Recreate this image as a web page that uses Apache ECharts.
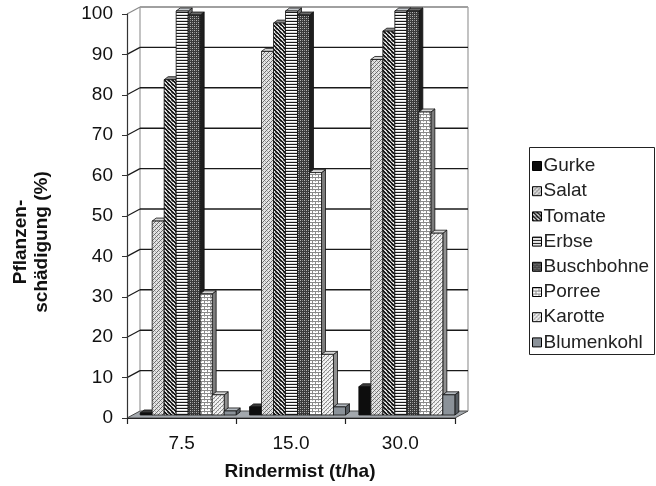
<!DOCTYPE html>
<html>
<head>
<meta charset="utf-8">
<script src="https://cdn.jsdelivr.net/npm/echarts@6/dist/echarts.min.js"></script>
<style>
  html, body { margin: 0; padding: 0; background: #fff; }
  #chart { width: 656px; height: 486px; }
</style>
</head>
<body>
<div id="chart"></div>
<script>
// Rindermist-Gabe (t/ha) und Pflanzenschädigung (%) je Gemüseart
const categories = ['7.5', '15.0', '30.0'];
const seriesNames = ['Gurke', 'Salat', 'Tomate', 'Erbse', 'Buschbohne', 'Porree', 'Karotte', 'Blumenkohl'];
const gurke      = [0.5, 2, 7];
const salat      = [48, 90, 88];
const tomate     = [83, 97, 95];
const erbse      = [100, 100, 100];
const buschbohne = [99, 99, 100];
const porree     = [30, 60, 75];
const karotte    = [5, 15, 45];
const blumenkohl = [1, 2, 5];
const yTicks = [0, 10, 20, 30, 40, 50, 60, 70, 80, 90, 100];

const seriesValues = [gurke, salat, tomate, erbse, buschbohne, porree, karotte, blumenkohl];

// --- pseudo-3D geometry (pixels) ---
const WALL_DX = 13, WALL_DY = -7;   // back wall offset from the front plane
const BAR_DX = 6.5, BAR_DY = -3;    // bars stand at half depth
const FACE_DX = 4, FACE_DY = -3;    // top/side face depth of a single bar
const BAR_W = 12;

// --- fill patterns ---
function tile(w, h, draw) {
  const c = document.createElement('canvas');
  c.width = w; c.height = h;
  const g = c.getContext('2d');
  draw(g);
  return { image: c, repeat: 'repeat' };
}
function px(g, col, pts) { g.fillStyle = col; pts.forEach(p => g.fillRect(p[0], p[1], 1, 1)); }

const patterns = [
  '#0d0d0d',
  tile(4, 4, g => { g.fillStyle = '#e4e4e4'; g.fillRect(0, 0, 4, 4);
    px(g, '#6c6c6c', [[0, 0], [2, 2], [1, 3], [3, 1]]); px(g, '#b0b0b0', [[1, 1], [3, 3]]); }),
  tile(4, 4, g => { g.fillStyle = '#dcdcdc'; g.fillRect(0, 0, 4, 4);
    px(g, '#1a1a1a', [[0, 0], [1, 1], [2, 2], [3, 3], [1, 0], [2, 1], [3, 2], [0, 3]]);
    px(g, '#777', [[3, 0], [0, 1]]); }),
  tile(1, 3, g => { g.fillStyle = '#ffffff'; g.fillRect(0, 0, 1, 3);
    px(g, '#1a1a1a', [[0, 0]]); px(g, '#d8d8d8', [[0, 2]]); }),
  tile(4, 4, g => { g.fillStyle = '#3a3a3a'; g.fillRect(0, 0, 4, 4);
    px(g, '#b8b8b8', [[0, 0], [2, 2]]); px(g, '#888', [[2, 0], [0, 2]]); }),
  tile(6, 6, g => { g.fillStyle = '#ffffff'; g.fillRect(0, 0, 6, 6);
    g.fillStyle = '#8a8a8a'; g.fillRect(0, 0, 6, 1); g.fillRect(0, 3, 6, 1);
    g.fillRect(0, 1, 1, 2); g.fillRect(3, 4, 1, 2); px(g, '#bbb', [[3, 1], [0, 4]]); }),
  tile(4, 4, g => { g.fillStyle = '#f2f2f2'; g.fillRect(0, 0, 4, 4);
    px(g, '#8c8c8c', [[3, 0], [2, 1], [1, 2], [0, 3]]); px(g, '#c4c4c4', [[0, 0], [2, 2]]); }),
  '#8b9299'
];
const sideColors = ['#000', '#8e8e8e', '#2a2a2a', '#6e6e6e', '#1e1e1e', '#7c7c7c', '#909090', '#555b61'];
const topColors  = ['#3a3a3a', '#d4d4d4', '#8a8a8a', '#c8ccd0', '#6a6a6a', '#d8d8d8', '#d8d8d8', '#b4bac0'];

// back wall, side wall, floor and gridlines
function renderWalls(params, api) {
  const cs = params.coordSys;
  const v = api.value(0);
  const p = api.coord([0, v]);
  const y = p[1];
  const left = cs.x, right = cs.x + cs.width;
  const children = [];
  if (params.dataIndex === 0) {
    const yTop = cs.y, yBot = cs.y + cs.height;
    children.push({
      type: 'polygon', z2: 0,
      shape: { points: [[left, yBot], [right, yBot], [right + WALL_DX, yBot + WALL_DY], [left + WALL_DX, yBot + WALL_DY]] },
      style: { fill: '#a3a8ad', stroke: '#4a4a4a', lineWidth: 1 }
    });
    children.push({ type: 'line', z2: 1,
      shape: { x1: left + WALL_DX, y1: yTop + WALL_DY, x2: left + WALL_DX, y2: yBot + WALL_DY },
      style: { stroke: '#9a9a9a', lineWidth: 1.2 } });
    children.push({ type: 'line', z2: 1,
      shape: { x1: right + WALL_DX, y1: yTop + WALL_DY, x2: right + WALL_DX, y2: yBot + WALL_DY },
      style: { stroke: '#9a9a9a', lineWidth: 1.2 } });
  }
  if (v > 0) {
    const top = v === 100;
    children.push({ type: 'line', z2: 2,
      shape: { x1: left + WALL_DX, y1: y + WALL_DY, x2: right + WALL_DX, y2: y + WALL_DY },
      style: { stroke: top ? '#a0a0a0' : '#1a1a1a', lineWidth: top ? 2 : 1.4 } });
    children.push({ type: 'line', z2: 2,
      shape: { x1: left, y1: y, x2: left + WALL_DX, y2: y + WALL_DY },
      style: { stroke: top ? '#8a8a8a' : '#1a1a1a', lineWidth: 1.2 } });
  }
  return { type: 'group', children };
}

function makeBarRenderer(i) {
  return function (params, api) {
    const j = api.value(0), v = api.value(1);
    const base = api.coord([j, 0]);
    const topP = api.coord([j, v]);
    const n = seriesNames.length;
    const x0 = base[0] + BAR_DX - (n * BAR_W) / 2 + i * BAR_W;
    const x1 = x0 + BAR_W;
    const yb = base[1] + BAR_DY;
    const yt = topP[1] + BAR_DY;
    const stroke = '#111';
    return {
      type: 'group',
      children: [
        { type: 'polygon', shape: { points: [[x1, yt], [x1 + FACE_DX, yt + FACE_DY], [x1 + FACE_DX, yb + FACE_DY], [x1, yb]] },
          style: { fill: sideColors[i], stroke: stroke, lineWidth: 0.8 } },
        { type: 'polygon', shape: { points: [[x0, yt], [x1, yt], [x1 + FACE_DX, yt + FACE_DY], [x0 + FACE_DX, yt + FACE_DY]] },
          style: { fill: topColors[i], stroke: stroke, lineWidth: 0.8 } },
        { type: 'rect', shape: { x: x0, y: yt, width: BAR_W, height: yb - yt },
          style: { fill: patterns[i], stroke: stroke, lineWidth: 0.8 } }
      ]
    };
  };
}

const FONT = '"Liberation Sans", Arial, Helvetica, sans-serif';

const series = [{
  type: 'custom',
  name: '_walls',
  silent: true,
  z: 1,
  renderItem: renderWalls,
  encode: { y: 0 },
  data: yTicks.map(t => [t])
}].concat(seriesNames.map((name, i) => ({
  type: 'custom',
  name: name,
  z: 2,
  renderItem: makeBarRenderer(i),
  itemStyle: { color: patterns[i] },
  encode: { x: 0, y: 1 },
  data: seriesValues[i].map((v, j) => [j, v])
})));

const chart = echarts.init(document.getElementById('chart'), null, { renderer: 'canvas' });
chart.setOption({
  animation: false,
  backgroundColor: '#ffffff',
  textStyle: { fontFamily: FONT },
  grid: { left: 127, right: 201, top: 14, bottom: 65, containLabel: false },
  xAxis: {
    type: 'category',
    data: categories,
    z: 5,
    boundaryGap: true,
    axisLine: { lineStyle: { color: '#222', width: 1.2 } },
    axisTick: { show: true, length: 6, lineStyle: { color: '#222', width: 1.2 } },
    axisLabel: { fontSize: 19, color: '#111', margin: 16, fontFamily: FONT },
    name: 'Rindermist (t/ha)',
    nameLocation: 'middle',
    nameGap: 44,
    nameTextStyle: { fontSize: 19, fontWeight: 'bold', color: '#111', fontFamily: FONT, padding: [0, 0, 0, 18] },
    splitLine: { show: false }
  },
  yAxis: {
    type: 'value',
    min: 0, max: 100, interval: 10,
    z: 5,
    axisLine: { show: true, lineStyle: { color: '#333', width: 1.2 } },
    axisTick: { show: true, length: 5, lineStyle: { color: '#333' } },
    axisLabel: { fontSize: 19, color: '#111', margin: 14, fontFamily: FONT },
    splitLine: { show: false }
  },
  legend: {
    data: seriesNames,
    orient: 'vertical',
    left: 527, top: 148,
    padding: [8, 0, 8, 5],
    itemGap: 5.2,
    itemWidth: 9, itemHeight: 9,
    icon: 'rect',
    itemStyle: { borderColor: '#000', borderWidth: 1 },
    textStyle: { fontSize: 19, color: '#222', lineHeight: 20, padding: [0, 0, 0, -3], fontFamily: FONT },
    selectedMode: false
  },
  graphic: [
    { type: 'rect', left: 527, top: 145, z: 0, silent: true,
      shape: { width: 125, height: 207 },
      style: { fill: 'none', stroke: '#222', lineWidth: 1 } },
    { type: 'text', x: 31, y: 242, rotation: Math.PI / 2, z: 10, silent: true,
      style: { text: 'Pflanzen-\nschädigung (%)', align: 'center', verticalAlign: 'middle',
        font: 'bold 19px ' + FONT, lineHeight: 21, fill: '#111' } }
  ],
  series: series
});
</script>
</body>
</html>
